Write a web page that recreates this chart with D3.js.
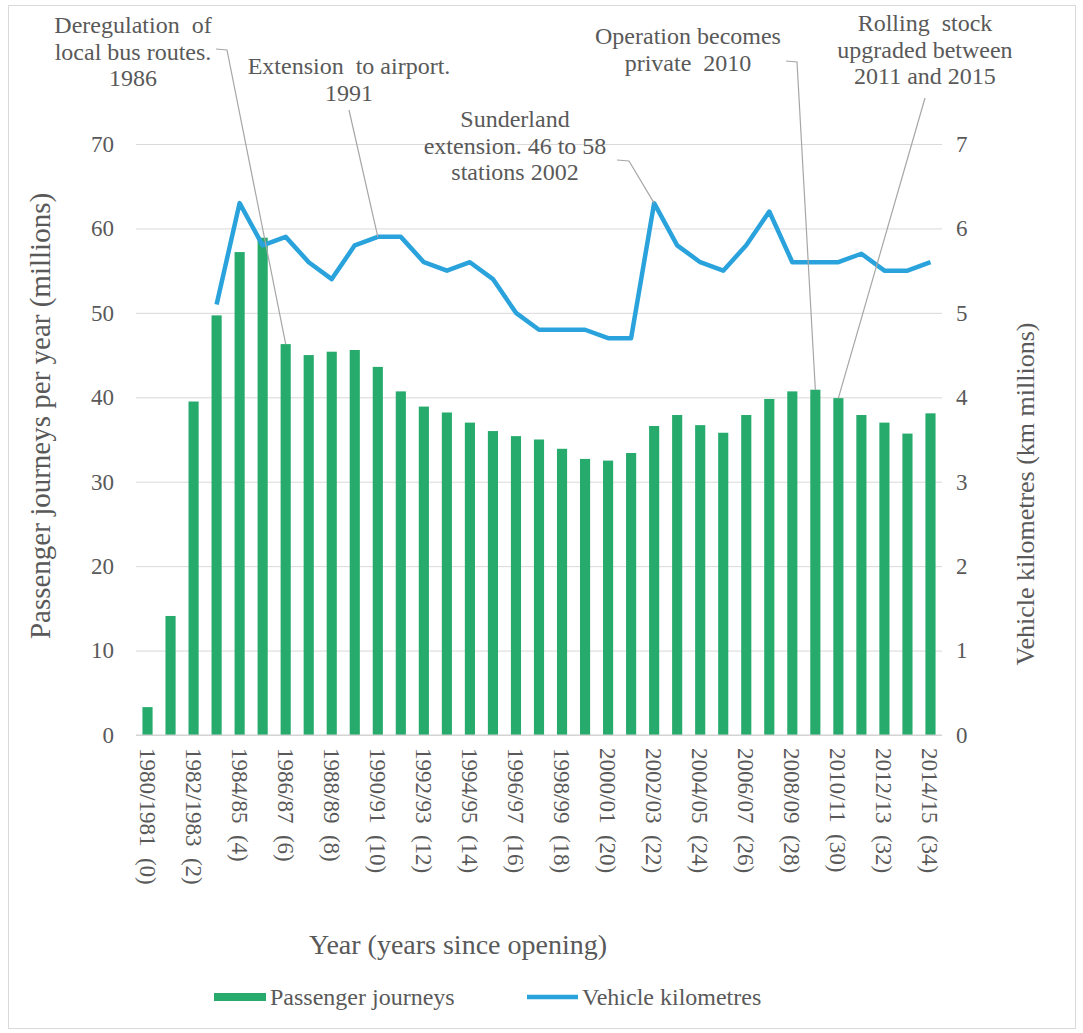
<!DOCTYPE html>
<html lang="en">
<head>
    <meta charset="UTF-8">
    <title>Passenger journeys and vehicle kilometres</title>
    <script src="https://cdn.jsdelivr.net/npm/d3@7"></script>
    <style>
        body { margin: 0; background: #fff; }
        svg text { font-family: "Liberation Serif", "Times New Roman", Times, "DejaVu Serif", serif; fill: #595959; white-space: pre; }
    </style>
</head>
<body>
<script type="application/javascript">
    // years since opening (one bar per year)
    const yearsSinceOpening = [0, 1, 2, 3, 4, 5, 6, 7, 8, 9, 10, 11, 12, 13, 14, 15, 16, 17,
        18, 19, 20, 21, 22, 23, 24, 25, 26, 27, 28, 29, 30, 31, 32, 33, 34];
    // only every second year is labelled
    const tickYears = [0, 2, 4, 6, 8, 10, 12, 14, 16, 18, 20, 22, 24, 26, 28, 30, 32, 34];
    const tickLabels = ['1980/1981  (0)', '1982/1983  (2)', '1984/85  (4)', '1986/87  (6)', '1988/89  (8)',
        '1990/91  (10)', '1992/93  (12)', '1994/95  (14)', '1996/97  (16)', '1998/99  (18)',
        '2000/01  (20)', '2002/03  (22)', '2004/05  (24)', '2006/07  (26)', '2008/09  (28)',
        '2010/11  (30)', '2012/13  (32)', '2014/15  (34)'];

    // passenger journeys per year (millions)
    const journeys = [3.3, 14.1, 39.5, 49.7, 57.2, 58.9, 46.3, 45.0, 45.4, 45.6, 43.6, 40.7, 38.9, 38.2,
        37.0, 36.0, 35.4, 35.0, 33.9, 32.7, 32.5, 33.4, 36.6, 37.9, 36.7, 35.8, 37.9, 39.8, 40.7, 40.9,
        39.9, 37.9, 37.0, 35.7, 38.1];
    // vehicle kilometres (km millions), no data for the first three years
    const vehicleKm = [null, null, null, 5.1, 6.3, 5.8, 5.9, 5.6, 5.4, 5.8, 5.9, 5.9, 5.6, 5.5, 5.6, 5.4,
        5.0, 4.8, 4.8, 4.8, 4.7, 4.7, 6.3, 5.8, 5.6, 5.5, 5.8, 6.2, 5.6, 5.6, 5.6, 5.7, 5.5, 5.5, 5.6];

    const leftTicks = [0, 10, 20, 30, 40, 50, 60, 70];
    const rightTicks = [0, 1, 2, 3, 4, 5, 6, 7];

    // callouts: text lines and the year / series they point at
    const noteLines = [
        ['Deregulation  of', 'local bus routes.', '1986'],
        ['Extension  to airport.', '1991'],
        ['Sunderland', 'extension. 46 to 58', 'stations 2002'],
        ['Operation becomes', 'private  2010'],
        ['Rolling  stock', 'upgraded between', '2011 and 2015']
    ];
    const noteYears = [6, 10, 22, 29, 30];
    const noteSeries = ['journeys', 'km', 'km', 'journeys', 'journeys'];

    const w = 1083, h = 1033;
    const plot = {left: 136, right: 942, top: 144, bottom: 735};
    const serif = '"Liberation Serif", "Times New Roman", Times, "DejaVu Serif", serif';

    let svg = d3.select('body')
        .append('svg')
        .attr('width', w)
        .attr('height', h)
        .attr('font-family', serif);

    // outer frame
    svg.append('rect')
        .attr('x', 8.5).attr('y', 5.5)
        .attr('width', 1067).attr('height', 1023)
        .attr('fill', 'none')
        .attr('stroke', '#d9d9d9');

    let xScale = d3.scaleBand()
        .domain(yearsSinceOpening)
        .range([plot.left, plot.right])
        .paddingInner(0.56)
        .paddingOuter(0.28);

    let yLeft = d3.scaleLinear().domain([0, 70]).range([plot.bottom, plot.top]);
    let yRight = d3.scaleLinear().domain([0, 7]).range([plot.bottom, plot.top]);

    // gridlines + left axis labels
    let leftAxis = d3.axisLeft(yLeft)
        .tickValues(leftTicks)
        .tickFormat(d3.format('d'))
        .tickSize(-(plot.right - plot.left))
        .tickPadding(22);
    let gl = svg.append('g')
        .attr('transform', 'translate(' + plot.left + ',0)')
        .call(leftAxis)
        .attr('font-family', serif);
    gl.select('.domain').remove();
    gl.selectAll('line').attr('stroke', '#d9d9d9');
    gl.selectAll('text').attr('font-size', '23px').attr('fill', '#595959');

    let rightAxis = d3.axisRight(yRight)
        .tickValues(rightTicks)
        .tickFormat(d3.format('d'))
        .tickSize(0)
        .tickPadding(14);
    let gr = svg.append('g')
        .attr('transform', 'translate(' + plot.right + ',0)')
        .call(rightAxis)
        .attr('font-family', serif);
    gr.select('.domain').remove();
    gr.selectAll('text').attr('font-size', '23px').attr('fill', '#595959');

    // bars
    svg.append('g')
        .selectAll('rect')
        .data(journeys)
        .enter()
        .append('rect')
        .attr('x', (d, i) => xScale(yearsSinceOpening[i]))
        .attr('y', d => yLeft(d))
        .attr('width', xScale.bandwidth())
        .attr('height', d => yLeft(0) - yLeft(d))
        .attr('fill', '#27AB6D');

    // baseline
    svg.append('line')
        .attr('x1', plot.left).attr('x2', plot.right)
        .attr('y1', yLeft(0)).attr('y2', yLeft(0))
        .attr('stroke', '#d0d0d0');

    // vehicle km line
    let line = d3.line()
        .defined(d => d !== null)
        .x((d, i) => xScale(yearsSinceOpening[i]) + xScale.bandwidth() / 2)
        .y(d => yRight(d));
    svg.append('path')
        .datum(vehicleKm)
        .attr('d', line)
        .attr('fill', 'none')
        .attr('stroke', '#2AA3DC')
        .attr('stroke-width', 4.5)
        .attr('stroke-linejoin', 'round');

    // x labels, rotated
    let xl = svg.append('g');
    xl.selectAll('text')
        .data(tickYears)
        .enter()
        .append('text')
        .attr('transform', d => 'translate(' + (xScale(d) + xScale.bandwidth() / 2 - 8) + ',' + (plot.bottom + 13) + ') rotate(90)')
        .attr('font-size', '23px')
        .text((d, i) => tickLabels[i]);

    // axis titles
    svg.append('text')
        .attr('transform', 'translate(50,416) rotate(-90)')
        .attr('text-anchor', 'middle')
        .attr('font-size', '29px')
        .text('Passenger journeys per year (millions)');
    svg.append('text')
        .attr('transform', 'translate(1034,494) rotate(-90)')
        .attr('text-anchor', 'middle')
        .attr('font-size', '26px')
        .text('Vehicle kilometres (km millions)');
    svg.append('text')
        .attr('x', 458).attr('y', 954)
        .attr('text-anchor', 'middle')
        .attr('font-size', '28px')
        .text('Year (years since opening)');

    // legend
    svg.append('rect')
        .attr('x', 214).attr('y', 993).attr('width', 52).attr('height', 8)
        .attr('fill', '#27AB6D');
    svg.append('text')
        .attr('x', 270).attr('y', 1005)
        .attr('font-size', '24px')
        .text('Passenger journeys');
    svg.append('line')
        .attr('x1', 527).attr('x2', 578).attr('y1', 997).attr('y2', 997)
        .attr('stroke', '#2AA3DC').attr('stroke-width', 4.5);
    svg.append('text')
        .attr('x', 582).attr('y', 1005)
        .attr('font-size', '24px')
        .text('Vehicle kilometres');

    // callouts
    const noteCx = [133, 349, 515, 688, 925];
    const noteTop = [33, 74, 127, 44, 31];
    const noteStart = [
        [[216, 49], [227, 50]],
        [[349, 110]],
        [[617, 160], [629, 161]],
        [[786, 61], [797, 62]],
        [[925, 98]]
    ];
    noteLines.forEach((lines, k) => {
        let idx = noteYears[k];
        let tx = xScale(idx) + xScale.bandwidth() / 2;
        let ty = noteSeries[k] === 'km' ? yRight(vehicleKm[idx]) : yLeft(journeys[idx]);
        let pts = noteStart[k].concat([[tx, ty]]);
        svg.append('path')
            .attr('d', d3.line()(pts))
            .attr('fill', 'none')
            .attr('stroke', '#a6a6a6')
            .attr('stroke-width', 1.2);
        let t = svg.append('text')
            .attr('text-anchor', 'middle')
            .attr('font-size', '24px');
        lines.forEach((s, j) => {
            t.append('tspan')
                .attr('x', noteCx[k])
                .attr('y', noteTop[k] + j * 26.5)
                .text(s);
        });
    });
</script>
</body>
</html>
